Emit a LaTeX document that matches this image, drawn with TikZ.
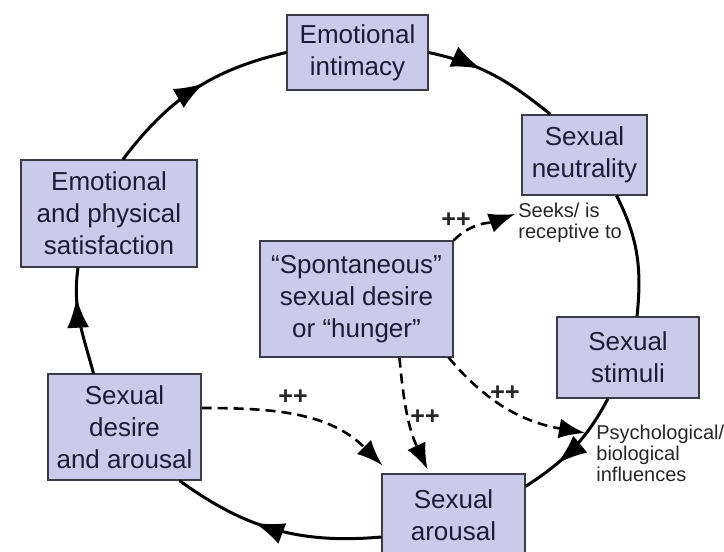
\documentclass[tikz,border=0pt]{standalone}
\usepackage{fontspec}
\setmainfont{Liberation Sans}
\usepackage{tikz}
\usetikzlibrary{arrows.meta,decorations.markings}
\definecolor{lavender}{RGB}{202,202,234}
\definecolor{inkblue}{RGB}{28,28,52}
\definecolor{rimgrey}{RGB}{60,60,72}

\begin{document}
\begin{tikzpicture}[x=0.5pt,y=0.5pt]

		\tikzset{
			stage/.style={draw=rimgrey, fill=lavender, line width=0.6pt, align=center, text=inkblue, font=\fontsize{13}{16}\selectfont, inner sep=1pt},
			note/.style={anchor=west, align=left, inner sep=1pt, text=black!85, font=\fontsize{10}{10.5}\selectfont},
			plus/.style={inner sep=0pt, text=black!85, font=\bfseries\fontsize{12.5}{12.5}\selectfont},
			loop/.style={line width=1.5pt},
			midarrow/.style={postaction={decorate}, decoration={markings, mark=at position #1 with {\arrow{Latex[length=15pt,width=11pt]}}}},
			boost/.style={line width=1.3pt, dash pattern=on 5pt off 3pt, -{Latex[length=13pt,width=10pt]}}
		}

		\useasboundingbox (0,0) rectangle (724,552);

		% boxes

		\node[stage, minimum width=70.5pt, minimum height=37.5pt] (intim) at (357.5,499.5) {Emotional\\intimacy};
		\node[stage, minimum width=62.5pt, minimum height=40pt] (neut) at (584.5,397) {Sexual\\neutrality};
		\node[stage, minimum width=71pt, minimum height=40.5pt] (stim) at (628,194.5) {Sexual\\stimuli};
		\node[stage, minimum width=71.5pt, minimum height=41pt] (arousal) at (453.5,37) {Sexual\\arousal};
		\node[stage, minimum width=76.5pt, minimum height=53pt] (desire) at (124.5,125) {Sexual\\desire\\and arousal};
		\node[stage, minimum width=88pt, minimum height=53.5pt] (satis) at (109,338.5) {Emotional\\and physical\\satisfaction};
		\node[stage, minimum width=96.5pt, minimum height=58pt] (spont) at (356.5,253) {“Spontaneous”\\sexual desire\\or “hunger”};

		% side notes

		\node[note] (seeks) at (516,329) {Seeks/ is\\receptive to};
		\node[note] (psych) at (594,99) {Psychological/\\biological\\influences};

		% the cycle

		\draw[loop, midarrow=0.4] (intim.east) to[out=-12, in=141] ([shift={(-34,0)}]neut.north);
		\draw[loop] ([shift={(32,0)}]neut.south) to[out=-63, in=84] ([shift={(9,0)}]stim.north);
		\draw[loop, midarrow=0.68] ([shift={(-20,0)}]stim.south) to[out=-118, in=33] ([shift={(0,-13)}]arousal.north east);
		\draw[loop, midarrow=0.6] ([shift={(0,-22)}]arousal.west) to[out=185, in=-36] ([shift={(55,0)}]desire.south);
		\draw[loop, midarrow=0.72] ([shift={(-31,0)}]desire.north) to[out=105, in=262] ([shift={(-31,0)}]satis.south);
		\draw[loop, midarrow=0.56] ([shift={(14,0)}]satis.north) to[out=53, in=193] (intim.west);

		% dashed influences

		\draw[boost] (spont.north east) to[out=45, in=200] ([shift={(-1,9)}]seeks.west);
		\draw[boost] ([shift={(43,0)}]spont.south) to[out=-85, in=115] ([shift={(-26,4)}]arousal.north);
		\draw[boost] ([shift={(-5,0)}]spont.south east) to[out=-50, in=170] ([shift={(-9,20)}]psych.west);
		\draw[boost] ([shift={(0,19)}]desire.east) to[out=0, in=135] ([shift={(1,8)}]arousal.north west);

		\node[plus] (pseeks) at (456,332) {++};
		\node[plus] (pdown) at (425,135) {++};
		\node[plus] (pright) at (505,159) {++};
		\node[plus] (pleft) at (293,155) {++};

\end{tikzpicture}
\end{document}
